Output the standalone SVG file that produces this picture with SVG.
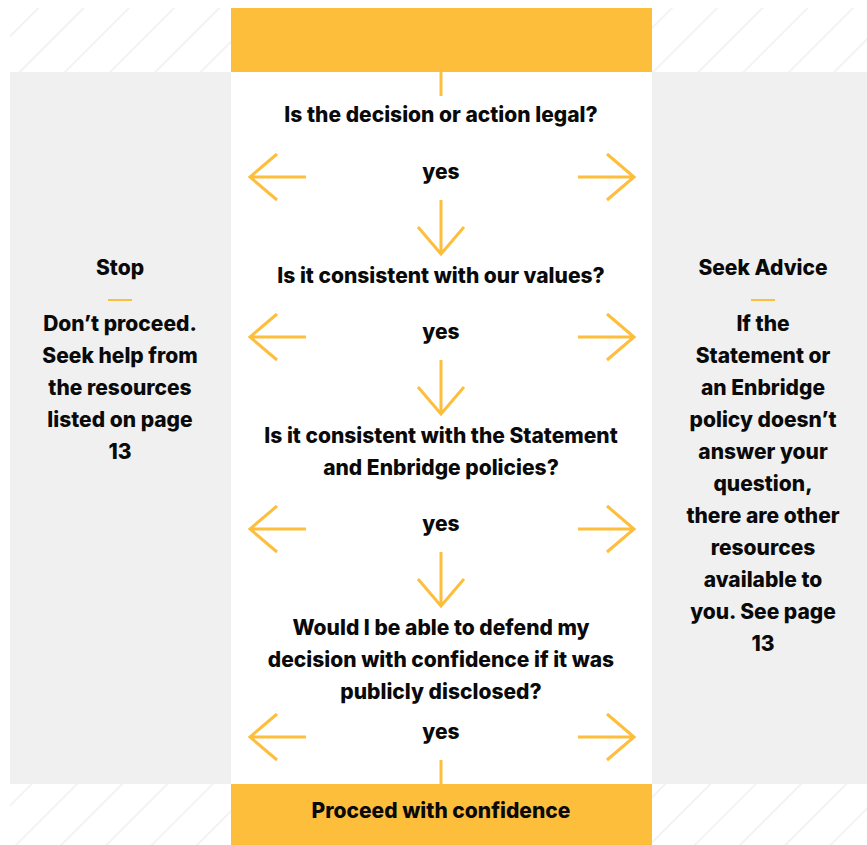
<svg xmlns="http://www.w3.org/2000/svg" width="867" height="845" viewBox="0 0 867 845">
<defs>
<pattern id="hatch" patternUnits="userSpaceOnUse" width="32" height="32" patternTransform="rotate(45)">
<line x1="0" y1="0" x2="0" y2="32" stroke="#efefef" stroke-width="3"/>
</pattern>
<style>
.t{font-family:Inter,"Liberation Sans",sans-serif;font-weight:800;font-size:21px;fill:#0a0a0a;text-anchor:middle}
.a{fill:none;stroke:#fdbe3c;stroke-width:3}
</style>
</defs>
<rect width="867" height="845" fill="#ffffff"/>
<rect x="10" y="8" width="221" height="64" fill="url(#hatch)"/>
<rect x="652" y="8" width="215" height="64" fill="url(#hatch)"/>
<rect x="10" y="784" width="221" height="61" fill="url(#hatch)"/>
<rect x="652" y="784" width="215" height="61" fill="url(#hatch)"/>
<g id="stop">
<rect x="10" y="72" width="221" height="712" fill="#f0f0f0"/>
<text class="t" x="120" y="275">Stop</text>
<line x1="108" y1="300" x2="132" y2="300" stroke="#fdbe3c" stroke-width="2"/>
<text class="t" x="120" y="331">Don’t proceed.</text>
<text class="t" x="120" y="363">Seek help from</text>
<text class="t" x="120" y="395">the resources</text>
<text class="t" x="120" y="427">listed on page</text>
<text class="t" x="120" y="459">13</text>
</g>
<g id="advice">
<rect x="652" y="72" width="215" height="712" fill="#f0f0f0"/>
<text class="t" x="763" y="275">Seek Advice</text>
<line x1="751" y1="300" x2="775" y2="300" stroke="#fdbe3c" stroke-width="2"/>
<text class="t" x="763" y="331">If the</text>
<text class="t" x="763" y="363">Statement or</text>
<text class="t" x="763" y="395">an Enbridge</text>
<text class="t" x="763" y="427">policy doesn’t</text>
<text class="t" x="763" y="459">answer your</text>
<text class="t" x="763" y="491">question,</text>
<text class="t" x="763" y="523">there are other</text>
<text class="t" x="763" y="555">resources</text>
<text class="t" x="763" y="587">available to</text>
<text class="t" x="763" y="619">you. See page</text>
<text class="t" x="763" y="651">13</text>
</g>
<g id="start"><rect x="231" y="8" width="421" height="64" fill="#fdbe3c"/></g>
<g id="end">
<rect x="231" y="784" width="421" height="61" fill="#fdbe3c"/>
<text class="t" x="441" y="818">Proceed with confidence</text>
</g>
<g id="q1"><text class="t" x="441" y="122">Is the decision or action legal?</text></g>
<g id="q2"><text class="t" x="441" y="283">Is it consistent with our values?</text></g>
<g id="q3"><text class="t" x="441" y="443">Is it consistent with the Statement</text><text class="t" x="441" y="475">and Enbridge policies?</text></g>
<g id="q4"><text class="t" x="441" y="635">Would I be able to defend my</text><text class="t" x="441" y="667">decision with confidence if it was</text><text class="t" x="441" y="699">publicly disclosed?</text></g>
<g id="yes">
<text class="t" x="441" y="179">yes</text>
<text class="t" x="441" y="339">yes</text>
<text class="t" x="441" y="531">yes</text>
<text class="t" x="441" y="739">yes</text>
</g>
<g id="connectors">
<line class="a" x1="441" y1="72" x2="441" y2="96"/>
<line class="a" x1="441" y1="760" x2="441" y2="784"/>
<g id="left-arrows">
<path class="a" d="M306 177H250M277 154L250 177L277 200"/>
<path class="a" d="M306 337H250M277 314L250 337L277 360"/>
<path class="a" d="M306 529H250M277 506L250 529L277 552"/>
<path class="a" d="M306 737H250M277 714L250 737L277 760"/>
</g>
<g id="right-arrows">
<path class="a" d="M578 177H634M607 154L634 177L607 200"/>
<path class="a" d="M578 337H634M607 314L634 337L607 360"/>
<path class="a" d="M578 529H634M607 506L634 529L607 552"/>
<path class="a" d="M578 737H634M607 714L634 737L607 760"/>
</g>
<g id="down-arrows">
<path class="a" d="M441 200V254M418 227L441 254L464 227"/>
<path class="a" d="M441 360V414M418 387L441 414L464 387"/>
<path class="a" d="M441 552V606M418 579L441 606L464 579"/>
</g>
</g>
</svg>
